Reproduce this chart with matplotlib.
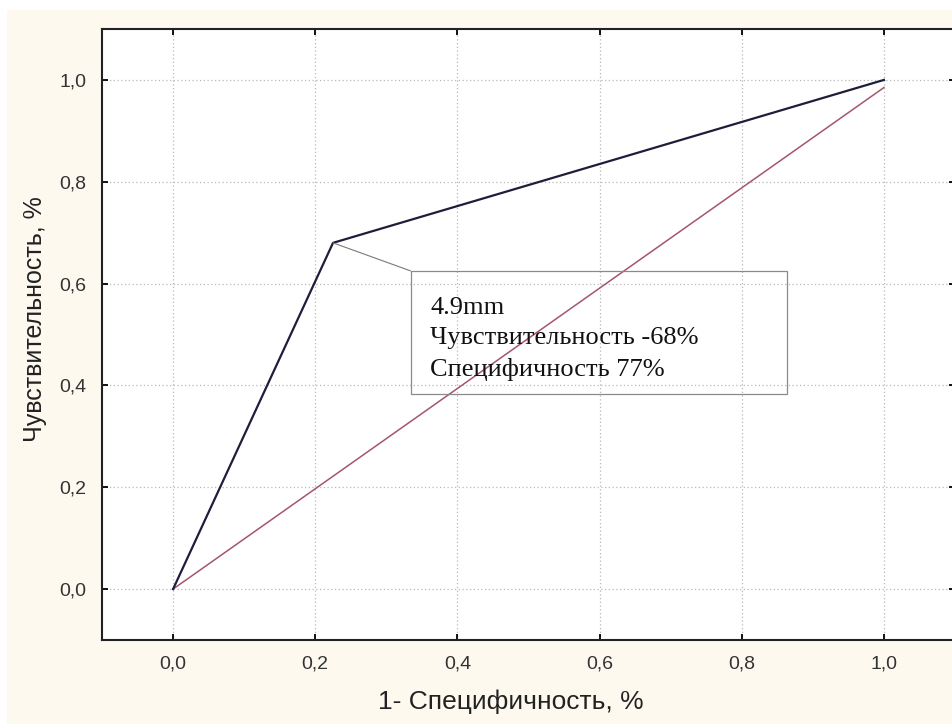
import matplotlib
matplotlib.use('Agg')
import matplotlib.pyplot as plt
from matplotlib.patches import Rectangle

# Data
roc_x = [0.0, 0.225, 1.0]
roc_y = [0.0, 0.68, 1.0]
ref_x = [0.0, 1.0]
ref_y = [0.0, 0.985]
ticks = [0.0, 0.2, 0.4, 0.6, 0.8, 1.0]
tick_labels = ['0,0', '0,2', '0,4', '0,6', '0,8', '1,0']
note_lines = ['4.9mm', 'Чувствительность -68%', 'Специфичность 77%']

W, H = 952, 724
fig = plt.figure(figsize=(W / 100, H / 100), dpi=100, facecolor='white')
bg = Rectangle((7 / W, 0), 1, (H - 10) / H, transform=fig.transFigure,
               facecolor='#fdf9ef', edgecolor='none', zorder=-10)
fig.add_artist(bg)

ax = fig.add_axes([102 / W, 84 / H, 853 / W, 611 / H])
ax.set_zorder(5)
ax.set_facecolor('white')
ax.set_xlim(-0.1, 1.1)
ax.set_ylim(-0.1, 1.1)

ax.plot(ref_x, ref_y, color='#a4566a', lw=1.1, zorder=3)
ax.plot(roc_x, roc_y, color='#1e1e3c', lw=1.6, zorder=4)

ax.set_xticks(ticks)
ax.set_yticks(ticks)
ax.set_xticklabels(tick_labels)
ax.set_yticklabels(tick_labels)
ax.tick_params(direction='in', length=4, width=1.3, top=True, right=True,
               labelsize=14, labelcolor='#333333')
ax.tick_params(axis='x', pad=11)
ax.tick_params(axis='y', pad=11)
for lab in ax.get_xticklabels() + ax.get_yticklabels():
    lab.set_family('Liberation Sans')

for s in ax.spines.values():
    s.set_linewidth(1.5)
    s.set_color('#222222')

ax.grid(True, linestyle=(0, (1, 2)), color='#b8b8b8', lw=0.9, zorder=1)
ax.set_axisbelow(True)

ax.set_xlabel('1- Специфичность, %', family='Liberation Sans', fontsize=19,
              color='#222222')
ax.set_ylabel('Чувствительность, %', family='Liberation Sans', fontsize=18,
              color='#222222')
ax.xaxis.set_label_coords(0.479, -0.081)
ax.yaxis.set_label_coords(-0.064, 0.525)

# annotation box
bx0, bx1 = 0.334, 0.863
by0, by1 = 0.384, 0.625
ax.add_patch(Rectangle((bx0, by0), bx1 - bx0, by1 - by0, facecolor='none',
                       edgecolor='#8a8a8a', lw=0.9, zorder=5))
ax.annotate('', xy=(roc_x[1], roc_y[1]), xytext=(bx0, by1),
            arrowprops=dict(arrowstyle='-', color='#7a7a7a', lw=0.8,
                            shrinkA=0, shrinkB=0), zorder=5)
ax.text(0.362, 0.574, '\n'.join(note_lines), family='Liberation Serif',
        fontsize=19, va='top', ha='left', linespacing=1.5, color='#111111', zorder=6)

fig.savefig('out.png', dpi=100, facecolor=fig.get_facecolor())
